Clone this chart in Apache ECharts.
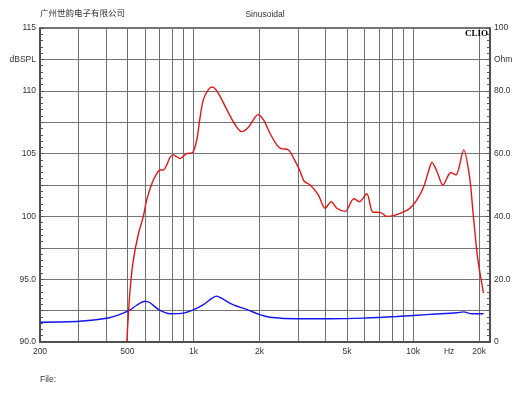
<!DOCTYPE html>
<html>
<head>
<meta charset="utf-8">
<script src="https://cdn.jsdelivr.net/npm/echarts@6/dist/echarts.min.js"></script>
<style>html,body{margin:0;padding:0;background:#fff}#c{width:530px;height:398px}</style>
</head>
<body>
<div id="c"></div>
<script>
// ---- data ----
var titleLeft = '广州世韵电子有限公司';
var titleCenter = 'Sinusoidal';
var fileLabel = 'File:';
var brand = 'CLIO';

// SPL curve (Hz, dBSPL)
var redFreq = [497, 514, 532, 561, 591, 612, 646, 680, 704, 729, 755, 782, 810, 840, 869, 900, 932, 993,
  1035, 1072, 1109, 1169, 1220, 1298, 1418, 1547, 1659, 1779, 1908, 1965, 2081, 2232, 2395, 2510, 2705, 2903,
  3059, 3190, 3400, 3707, 3975, 4240, 4497, 4906, 5370, 5700, 6153, 6550, 7131, 7597, 8287, 8900, 9600, 10300,
  11144, 11900, 12180, 12830, 13670, 14860, 15670, 17000, 18060, 18800, 19600, 20210, 20920];
var redDb = [90.0, 94.1, 96.5, 98.6, 100.0, 101.3, 102.6, 103.4, 103.7, 103.7, 104.1, 104.7, 104.9, 104.75, 104.6, 104.8, 105.0, 105.1,
  106.1, 107.9, 109.3, 110.1, 110.3, 109.8, 108.5, 107.3, 106.75, 107.1, 107.9, 108.1, 107.7, 106.6, 105.7, 105.4, 105.3, 104.4,
  103.6, 102.8, 102.5, 101.7, 100.65, 101.17, 100.65, 100.4, 101.4, 101.17, 101.8, 100.35, 100.3, 100.0, 100.1, 100.3, 100.6, 101.2,
  102.3, 103.9, 104.3, 103.6, 102.5, 103.5, 103.3, 105.3, 103.2, 100.1, 96.9, 95.4, 93.9];

// Impedance curve (Hz, Ohm)
var blueFreq = [200, 304, 403, 463, 514, 551, 601, 634, 692, 782, 900, 998, 1109, 1211, 1276, 1345, 1520, 1748,
  2000, 2232, 2954, 4190, 5940, 8430, 11960, 15820, 16970, 18530, 20920];
var blueOhm = [6.3, 6.6, 7.55, 8.8, 10.2, 11.7, 13.0, 12.5, 10.4, 9.0, 9.2, 10.2, 11.9, 13.9, 14.6, 13.9, 11.8, 10.4,
  8.7, 7.9, 7.4, 7.4, 7.6, 8.1, 8.8, 9.3, 9.6, 9.0, 9.0];

// axis ticks / labels
var xGridFreqs = [300, 400, 500, 600, 700, 800, 900, 1000, 2000, 3000, 4000, 5000, 6000, 7000, 8000, 9000, 10000, 20000];
var xLabelFreqs = [200, 500, 1000, 2000, 5000, 10000, 14600, 20000];
var xLabelTexts = ['200', '500', '1k', '2k', '5k', '10k', 'Hz', '20k'];
var yLeftLabels = {115: '115', 112.5: 'dBSPL', 110: '110', 105: '105', 100: '100', 95: '95.0', 90: '90.0'};
var yRightLabels = {100: '100', 90: 'Ohm', 80: '80.0', 60: '60.0', 40: '40.0', 20: '20.0', 0: '0'};

function zip(a, b) { return a.map(function (v, i) { return [v, b[i]]; }); }

var FONT = 'Liberation Sans, Arial, sans-serif';
var TXT = '#333';
var chart = echarts.init(document.getElementById('c'), null, {renderer: 'canvas'});
chart.setOption({
  backgroundColor: '#fff',
  animation: false,
  title: [
    {text: titleLeft, left: 40, top: 9, padding: 0, textStyle: {fontSize: 8.5, fontWeight: 'normal', color: TXT, fontFamily: 'Noto Sans CJK SC'}},
    {text: titleCenter, left: 'center', top: 10, padding: 0, textStyle: {fontSize: 8.5, fontWeight: 'normal', color: TXT, fontFamily: FONT}}
  ],
  graphic: [
    {type: 'text', left: 40, top: 375, style: {text: fileLabel, fill: TXT, font: '8.5px Liberation Sans'}},
    {type: 'text', right: 42, top: 29, z: 100, style: {text: brand, fill: '#000', font: 'bold 9px Liberation Serif'}}
  ],
  grid: {left: 40, right: 40, top: 28, bottom: 56, show: true, borderColor: '#444', borderWidth: 1.5, containLabel: false},
  xAxis: {
    type: 'log', logBase: 10, min: 200, max: 22400,
    axisLine: {show: true, lineStyle: {color: '#444', width: 1.5}},
    axisTick: {show: false, customValues: xGridFreqs},
    splitLine: {show: true, lineStyle: {color: '#707070', width: 1}},
    minorTick: {show: false}, minorSplitLine: {show: false},
    axisLabel: {
      customValues: xLabelFreqs, margin: 5, color: TXT, fontSize: 8.5, fontFamily: FONT,
      formatter: function (v) {
        var best = 0, d = Infinity;
        for (var i = 0; i < xLabelFreqs.length; i++) {
          var dd = Math.abs(xLabelFreqs[i] - v);
          if (dd < d) { d = dd; best = i; }
        }
        return xLabelTexts[best];
      }
    }
  },
  yAxis: [
    {
      type: 'value', min: 90, max: 115, interval: 2.5, position: 'left',
      axisLine: {show: true, lineStyle: {color: '#444', width: 1.5}},
      axisTick: {show: true, inside: true, length: 4, lineStyle: {color: '#555'}},
      minorTick: {show: true, splitNumber: 5, length: 3, lineStyle: {color: '#555'}},
      splitLine: {show: true, lineStyle: {color: '#777', width: 1}},
      axisLabel: {margin: 4, color: TXT, fontSize: 8.5, fontFamily: FONT,
        formatter: function (v) { var k = Math.round(v * 10) / 10; return yLeftLabels[k] !== undefined ? yLeftLabels[k] : ''; }}
    },
    {
      type: 'value', min: 0, max: 100, interval: 10, position: 'right',
      axisLine: {show: true, lineStyle: {color: '#444', width: 1.5}},
      axisTick: {show: true, inside: true, length: 4, lineStyle: {color: '#555'}},
      minorTick: {show: true, splitNumber: 5, length: 3, lineStyle: {color: '#555'}},
      splitLine: {show: false},
      axisLabel: {margin: 4, color: TXT, fontSize: 8.5, fontFamily: FONT,
        formatter: function (v) { var k = Math.round(v); return yRightLabels[k] !== undefined ? yRightLabels[k] : ''; }}
    }
  ],
  series: [
    {type: 'line', name: 'SPL', yAxisIndex: 0, data: zip(redFreq, redDb), showSymbol: false, symbol: 'none',
      smooth: 0.3, clip: true, lineStyle: {color: '#e51515', width: 1.4}, z: 5},
    {type: 'line', name: 'Impedance', yAxisIndex: 1, data: zip(blueFreq, blueOhm), showSymbol: false, symbol: 'none',
      smooth: 0.3, clip: true, lineStyle: {color: '#1515f0', width: 1.4}, z: 4}
  ]
});
</script>
</body>
</html>
